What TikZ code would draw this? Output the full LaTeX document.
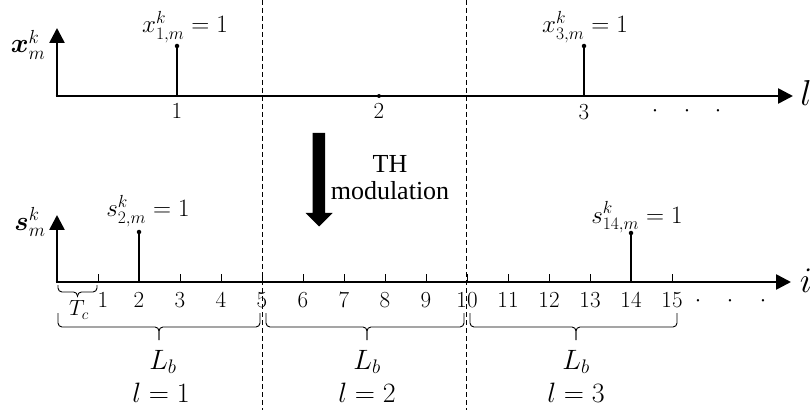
\RequirePackage{fix-cm}
\documentclass[tikz,border=0pt]{standalone}
\usepackage{amsmath}
\usepackage{fontspec}
\newfontfamily\serifTH{Liberation Serif}
\usetikzlibrary{arrows.meta}
\tikzset{
  axis/.style={line width=2.6pt,-{Triangle[length=15pt,width=15pt]}},
  stem/.style={line width=1.1pt},
  tick/.style={line width=0.9pt},
  sep/.style={line width=0.9pt,dash pattern=on 5pt off 3pt},
  brc/.style={line width=0.9pt,rounded corners=4pt},
  dotm/.style={circle,fill,inner sep=0pt,minimum size=4.5pt},
  numlab/.style={font=\fontsize{23}{26}\selectfont,inner sep=0pt},
  vallab/.style={font=\fontsize{25}{28}\selectfont,inner sep=0pt,anchor=base},
  blab/.style={font=\fontsize{28}{32}\selectfont,inner sep=0pt,anchor=base},
  axlab/.style={font=\fontsize{36}{40}\selectfont,inner sep=0pt},
  boldlab/.style={font=\fontsize{27}{30}\selectfont,inner sep=0pt,anchor=base},
}
\begin{document}
\begin{tikzpicture}[x=1pt,y=-1pt]
\useasboundingbox (0,0) rectangle (812,417);
% separators
\draw[sep] (262,0) -- (262,410);
\draw[sep] (466,0) -- (466,410);
% ---- top axis ----
\coordinate (o1) at (57,96);
\coordinate (ytop1) at (57,28);
\coordinate (xend1) at (793,96);
\draw[axis] (o1) -- (ytop1);
\draw[axis] ([xshift=-1.3pt]o1) -- (xend1);
\node[axlab] (lab-l) at (806,93) {$l$};
\node[boldlab] (lab-x) at (28,53) {$\boldsymbol{x}_m^k$};
% stems
\node[dotm] (d1) at (177,46) {};
\coordinate (b1) at (177,96);
\draw[stem] (d1.center) -- (b1);
\node[dotm] (d3) at (584,46) {};
\coordinate (b3) at (584,96);
\draw[stem] (d3.center) -- (b3);
\node[dotm,minimum size=4pt] (d2) at (379,96) {};
\node[vallab] (v1) at (185,33) {$x_{1,m}^k=1$};
\node[vallab] (v3) at (585,33) {$x_{3,m}^k=1$};
\node[numlab] (n1) at (177,111) {1};
\node[numlab] (n2) at (379,111) {2};
\node[numlab] (n3) at (584,112) {3};
\node[numlab] (td1) at (655,111) {$\cdot$};
\node[numlab] (td2) at (687,111) {$\cdot$};
\node[numlab] (td3) at (718,111) {$\cdot$};
% ---- TH arrow ----
\fill (312.5,133) -- (325,133) -- (325,213) -- (332.5,213) -- (319,226.5) -- (305.5,213) -- (312.5,213) -- cycle;
\node[font=\serifTH\fontsize{26}{30}\selectfont,align=center,inner sep=0pt] (th) at (390,178) {TH\\[-3pt]modulation};
% ---- bottom axis ----
\coordinate (o2) at (57,282);
\coordinate (ytop2) at (57,215);
\coordinate (xend2) at (791,282);
\draw[axis] (o2) -- (ytop2);
\draw[axis] ([xshift=-1.3pt]o2) -- (xend2);
\node[axlab] (lab-i) at (806,281) {$i$};
\node[boldlab] (lab-s) at (30,230) {$\boldsymbol{s}_m^k$};
\foreach \i in {1,...,15}{
  \draw[tick] ({57+41*\i},282) -- ({57+41*\i},274);
}
\foreach \i in {2,...,15}{
  \node[numlab] (t\i) at ({57+41*\i},300) {\i};
}
\node[numlab] (t1) at (103,300) {1};
\node[numlab] (bd1) at (698,301) {$\cdot$};
\node[numlab] (bd2) at (730,301) {$\cdot$};
\node[numlab] (bd3) at (763,301) {$\cdot$};
% stems bottom
\node[dotm] (e2) at (139,232) {};
\coordinate (c2) at (139,282);
\draw[stem] (e2.center) -- (c2);
\node[dotm] (e14) at (631,233) {};
\coordinate (c14) at (631,282);
\draw[stem] (e14.center) -- (c14);
\node[vallab] (w2) at (148,217) {$s_{2,m}^k=1$};
\node[vallab] (w14) at (637,223) {$s_{14,m}^k=1$};
% T_c brace
\draw[brc] (58,285) |- (77.5,292) -- (77.5,297);
\draw[brc] (97,285) |- (77.5,292) -- (77.5,297);
\node[font=\fontsize{22}{24}\selectfont,inner sep=0pt] (tc) at (79,310) {$T_c$};
% L_b braces
\draw[brc] (58,313) |- (159,327) -- (159,340);
\draw[brc] (260,313) |- (159,327) -- (159,340);
\draw[brc] (266,313) |- (367,327) -- (367,340);
\draw[brc] (464,313) |- (367,327) -- (367,340);
\draw[brc] (470,313) |- (576,327) -- (576,340);
\draw[brc] (677,313) |- (576,327) -- (576,340);
\node[blab] (lb1) at (163,369) {$L_b$};
\node[blab] (lb2) at (367,369) {$L_b$};
\node[blab] (lb3) at (576,369) {$L_b$};
\node[blab] (l1) at (161,402) {$l=1$};
\node[blab] (l2) at (367,402) {$l=2$};
\node[blab] (l3) at (576,402) {$l=3$};
\end{tikzpicture}
\end{document}
